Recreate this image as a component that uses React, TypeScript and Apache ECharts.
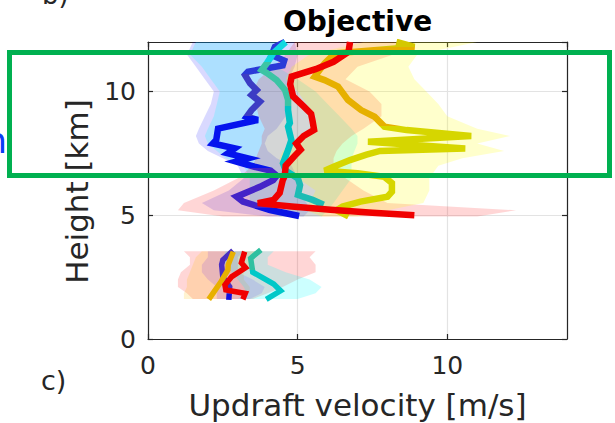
import React, { useEffect, useRef } from 'react';
import * as echarts from 'echarts';

// ---- axes ----
const X_MIN = 0;
const X_MAX = 14;
const Y_MIN = 0;
const Y_MAX = 12;
const X_TICKS = [0, 5, 10];
const Y_TICKS = [0, 5, 10];

// ---- profile lines [velocity m/s, height km] ----
const BLUE_UP: [number, number][] = [
  [4.58, 12.0], [4.24, 11.8], [4.13, 11.47], [4.55, 11.25], [4.5, 11.05], [3.34, 10.8], [3.24, 10.67],
  [3.41, 10.33], [3.63, 10.06], [3.46, 9.86], [3.74, 9.59], [3.46, 9.25], [3.3, 8.98], [3.67, 8.85],
  [2.34, 8.5], [2.28, 8.04], [2.17, 7.9], [2.9, 7.7], [2.67, 7.5], [3.34, 7.3], [2.95, 7.17],
  [3.56, 6.96], [4.1, 6.8], [4.3, 6.6], [4.18, 6.42], [3.74, 6.15], [2.96, 5.75], [3.17, 5.55],
  [4.08, 5.21], [5.05, 4.97],
];
const TEAL_UP: [number, number][] = [
  [4.6, 12.0], [4.18, 11.54], [3.97, 11.14], [3.8, 10.87], [3.97, 10.75], [4.3, 10.46], [4.58, 10.06],
  [4.68, 9.66], [4.68, 9.25], [4.74, 8.73], [4.68, 8.58], [4.79, 8.04], [4.68, 7.64], [4.51, 7.1],
  [4.6, 6.8], [5.01, 6.49], [5.08, 6.22], [5.01, 5.82], [5.5, 5.62], [5.77, 5.48], [5.68, 5.21],
];
const RED_UP: [number, number][] = [
  [6.75, 12.0], [6.7, 11.6], [6.2, 11.2], [5.6, 10.9], [4.8, 10.6], [4.75, 10.3], [4.85, 9.8],
  [5.2, 9.4], [5.45, 9.1], [5.5, 8.8], [5.55, 8.45], [5.2, 8.2], [4.95, 7.9], [5.1, 7.65],
  [4.9, 7.4], [4.6, 7.0], [4.57, 6.6], [4.5, 6.4], [4.4, 5.9], [4.2, 5.62], [3.67, 5.49],
  [4.8, 5.35], [6.1, 5.22], [7.5, 5.1], [8.9, 5.0],
];
const YELLOW_UP: [number, number][] = [
  [8.3, 12.0], [8.9, 11.8], [6.24, 11.54], [5.9, 11.14], [5.57, 10.6], [5.9, 10.46], [6.35, 10.2],
  [6.68, 9.66], [7.12, 9.25], [7.57, 8.98], [7.9, 8.58], [8.64, 8.44], [10.8, 8.2], [7.35, 7.97],
  [10.6, 7.7], [7.75, 7.6], [7.3, 7.45], [6.75, 7.23], [6.2, 6.96], [5.9, 6.8], [7.0, 6.7],
  [7.9, 6.55], [8.15, 6.3], [8.15, 5.95], [8.0, 5.75], [7.1, 5.55], [6.5, 5.35], [6.3, 5.2],
  [6.7, 4.95],
];
const BLUE_LOW: [number, number][] = [
  [2.84, 3.57], [2.5, 3.19], [2.46, 3.0], [2.5, 2.5], [2.73, 2.11], [2.7, 1.58],
];
const ORANGE_LOW: [number, number][] = [
  [2.85, 3.53], [2.68, 3.0], [2.67, 2.79], [2.42, 2.28], [2.03, 1.6],
];
const RED_LOW: [number, number][] = [
  [3.23, 3.53], [3.12, 3.08], [3.26, 2.88], [2.8, 2.52], [2.57, 2.18], [2.6, 1.98], [3.25, 1.84],
  [3.17, 1.6],
];
const TEAL_LOW: [number, number][] = [
  [3.77, 3.6], [3.43, 3.26], [3.5, 2.7], [4.2, 2.22], [4.43, 1.95], [3.95, 1.6],
];

// ---- spread bands (height, left edge, right edge) ----
const UPPER_Y = [12, 11.5, 11, 10.5, 10, 9.5, 9, 8.5, 8.2, 7.9, 7.6, 7.3, 7, 6.5, 6, 5.5, 5.2, 4.95];
const BLUE_BAND_LO = [1.5, 1.3, 1.6, 1.9, 2.2, 2.1, 1.9, 1.7, 1.6, 1.7, 2.0, 2.5, 3.0, 3.2, 2.7, 1.8, 2.2, 4.0];
const BLUE_BAND_HI = [4.9, 5.0, 4.9, 4.7, 4.6, 4.6, 4.6, 4.3, 4.0, 3.9, 4.0, 4.3, 4.8, 5.0, 5.0, 5.3, 5.4, 5.2];
const CYAN_BAND_LO = [1.6, 1.4, 1.8, 2.1, 2.4, 2.3, 2.2, 2.0, 1.9, 2.0, 2.3, 2.6, 3.2, 3.4, 3.4, 3.4, 3.8, 4.4];
const CYAN_BAND_HI = [4.6, 4.4, 4.3, 5.0, 5.6, 6.0, 6.4, 6.8, 7.0, 7.0, 6.9, 6.8, 6.8, 6.8, 6.5, 6.2, 6.0, 5.8];
const RED_BAND_LO = [4.9, 4.6, 4.2, 3.7, 3.5, 3.6, 3.7, 3.9, 3.8, 3.8, 3.7, 3.6, 3.5, 3.0, 2.2, 1.2, 1.0, 2.5];
const RED_BAND_HI = [8.4, 8.2, 7.0, 6.6, 7.4, 7.8, 7.8, 7.2, 6.8, 6.5, 6.3, 6.2, 6.2, 6.6, 7.2, 8.0, 12.3, 11.0];
const YELLOW_BAND_LO = [7.2, 5.4, 4.8, 4.6, 5.0, 5.3, 5.6, 5.6, 5.2, 4.8, 4.5, 4.4, 4.4, 5.0, 5.6, 5.4, 5.3, 5.8];
const YELLOW_BAND_HI = [11.0, 9.0, 8.7, 8.9, 9.3, 9.7, 10.0, 11.0, 12.1, 11.0, 11.9, 10.5, 9.7, 9.4, 9.4, 9.2, 8.0, 7.0];

const LOWER_Y = [3.55, 3.3, 3.0, 2.7, 2.4, 2.1, 1.85, 1.62];
const RED_LOW_BAND_LO = [1.2, 1.4, 1.4, 1.1, 1.0, 1.0, 1.3, 1.5];
const RED_LOW_BAND_HI = [5.6, 5.4, 5.6, 5.6, 5.0, 4.5, 4.0, 3.5];
const CYAN_LOW_BAND_LO = [2.6, 2.5, 2.6, 2.8, 3.0, 3.2, 3.3, 3.0];
const CYAN_LOW_BAND_HI = [4.2, 4.0, 4.0, 4.6, 5.4, 5.8, 5.6, 5.0];
const BLUE_LOW_BAND_LO = [2.0, 2.0, 1.8, 1.8, 2.0, 2.3, 2.3, 2.3];
const BLUE_LOW_BAND_HI = [3.2, 3.0, 3.0, 3.0, 3.5, 3.9, 3.8, 3.4];
const ORANGE_LOW_BAND_LO = [1.8, 1.6, 1.5, 1.4, 1.3, 1.3, 1.2, 1.2];
const ORANGE_LOW_BAND_HI = [3.8, 3.6, 3.4, 3.2, 3.2, 3.4, 3.4, 3.0];

const FONT = '"DejaVu Sans", sans-serif';
const AXIS_COLOR = '#262626';

function stepGradient(stops: [number, number, string][]) {
  const cs: { offset: number; color: string }[] = [];
  stops.forEach(([a, b, c]) => {
    cs.push({ offset: a, color: c });
    cs.push({ offset: b, color: c });
  });
  return new echarts.graphic.LinearGradient(0, 0, 0, 1, cs);
}

function band(ys: number[], lo: number[], hi: number[], fill: string, z = 1) {
  return {
    type: 'custom',
    coordinateSystem: 'cartesian2d',
    xAxisIndex: 0,
    yAxisIndex: 0,
    silent: true,
    z,
    data: [[0, 0]],
    renderItem: (_params: any, api: any) => {
      const pts: number[][] = [];
      for (let i = 0; i < ys.length; i++) pts.push(api.coord([lo[i], ys[i]]));
      for (let i = ys.length - 1; i >= 0; i--) pts.push(api.coord([hi[i], ys[i]]));
      return { type: 'polygon', shape: { points: pts }, style: { fill, stroke: 'none' } };
    },
  };
}

function line(data: [number, number][], color: any, width = 6.5) {
  return {
    type: 'line',
    xAxisIndex: 0,
    yAxisIndex: 0,
    data,
    showSymbol: false,
    symbol: 'none',
    silent: true,
    z: 5,
    lineStyle: { color, width, join: 'miter', cap: 'butt' },
  };
}

const tickFmt = (ticks: number[]) => (v: number) => (ticks.includes(v) ? String(v) : '');

export default function App() {
  const ref = useRef<HTMLDivElement>(null);
  useEffect(() => {
    if (!ref.current) return;
    const chart = echarts.init(ref.current, undefined, { renderer: 'svg' });
    const baseX = {
      type: 'value',
      min: X_MIN,
      max: X_MAX,
      interval: 5,
    };
    const baseY = {
      type: 'value',
      min: Y_MIN,
      max: Y_MAX,
      interval: 5,
    };
    chart.setOption({
      animation: false,
      backgroundColor: '#ffffff',
      grid: { left: 148, right: 48, top: 42, bottom: 84, containLabel: false },
      xAxis: [
        {
          ...baseX,
          position: 'bottom',
          axisLine: { show: true, onZero: false, lineStyle: { color: AXIS_COLOR, width: 1.2 } },
          axisTick: { show: true, inside: true, length: 5, lineStyle: { color: AXIS_COLOR, width: 1.2 } },
          axisLabel: {
            show: true, formatter: tickFmt(X_TICKS), color: AXIS_COLOR, fontSize: 25, fontFamily: FONT,
            margin: 14, showMaxLabel: false,
          },
          splitLine: { show: true, lineStyle: { color: '#e3e3e3', width: 1.2 } },
        },
        {
          ...baseX,
          position: 'top',
          axisLine: { show: true, onZero: false, lineStyle: { color: AXIS_COLOR, width: 1.2 } },
          axisTick: { show: true, inside: true, length: 5, lineStyle: { color: AXIS_COLOR, width: 1.2 } },
          axisLabel: { show: false },
          splitLine: { show: false },
        },
      ],
      yAxis: [
        {
          ...baseY,
          position: 'left',
          axisLine: { show: true, onZero: false, lineStyle: { color: AXIS_COLOR, width: 1.2 } },
          axisTick: { show: true, inside: true, length: 5, lineStyle: { color: AXIS_COLOR, width: 1.2 } },
          axisLabel: {
            show: true, formatter: tickFmt(Y_TICKS), color: AXIS_COLOR, fontSize: 25, fontFamily: FONT,
            margin: 12, showMaxLabel: false,
          },
          splitLine: { show: true, lineStyle: { color: '#e3e3e3', width: 1.2 } },
        },
        {
          ...baseY,
          position: 'right',
          axisLine: { show: true, onZero: false, lineStyle: { color: AXIS_COLOR, width: 1.2 } },
          axisTick: { show: true, inside: true, length: 5, lineStyle: { color: AXIS_COLOR, width: 1.2 } },
          axisLabel: { show: false },
          splitLine: { show: false },
        },
      ],
      series: [
        band(UPPER_Y, BLUE_BAND_LO, BLUE_BAND_HI, 'rgba(0,0,255,0.15)'),
        band(UPPER_Y, CYAN_BAND_LO, CYAN_BAND_HI, 'rgba(0,255,255,0.2)'),
        band(UPPER_Y, RED_BAND_LO, RED_BAND_HI, 'rgba(255,0,0,0.16)'),
        band(UPPER_Y, YELLOW_BAND_LO, YELLOW_BAND_HI, 'rgba(255,255,0,0.2)'),
        band(LOWER_Y, RED_LOW_BAND_LO, RED_LOW_BAND_HI, 'rgba(255,0,0,0.16)'),
        band(LOWER_Y, ORANGE_LOW_BAND_LO, ORANGE_LOW_BAND_HI, 'rgba(255,190,0,0.18)'),
        band(LOWER_Y, BLUE_LOW_BAND_LO, BLUE_LOW_BAND_HI, 'rgba(80,0,255,0.13)'),
        band(LOWER_Y, CYAN_LOW_BAND_LO, CYAN_LOW_BAND_HI, 'rgba(0,255,255,0.2)'),
        line(BLUE_UP, stepGradient([
          [0, 0.185, '#2a3ad8'], [0.185, 0.427, '#3c3cc4'], [0.427, 0.725, '#0514ee'],
          [0.725, 0.953, '#4424c8'], [0.953, 1, '#0a14e6'],
        ])),
        line(TEAL_UP, stepGradient([
          [0, 0.118, '#10d8e0'], [0.118, 0.383, '#3cc4a4'], [0.383, 0.78, '#00c4c4'], [0.78, 1, '#1cbcb4'],
        ])),
        line(YELLOW_UP, stepGradient([
          [0, 0.03, '#d4c800'], [0.03, 0.48, '#e6b000'], [0.48, 1, '#d6d600'],
        ])),
        line(RED_UP, '#f00000'),
        line(BLUE_LOW, stepGradient([[0, 0.89, '#4b2fc0'], [0.89, 1, '#1010e0']]), 5.5),
        line(ORANGE_LOW, '#e8b000', 5.5),
        line(TEAL_LOW, stepGradient([[0, 0.4, '#30c0a0'], [0.4, 1, '#00c8c8']]), 5.5),
        line(RED_LOW, '#f00000', 5.5),
      ],
      graphic: [
        {
          type: 'text', x: 357.5, y: 21, z: 20,
          style: { text: 'Objective', fill: '#000000', font: `bold 28px ${FONT}`, align: 'center', verticalAlign: 'middle' },
        },
        {
          type: 'text', x: 357.5, y: 405, z: 20,
          style: { text: 'Updraft velocity [m/s]', fill: AXIS_COLOR, font: `31px ${FONT}`, align: 'center', verticalAlign: 'middle' },
        },
        {
          type: 'text', x: 77, y: 191.5, rotation: Math.PI / 2, z: 20,
          style: { text: 'Height [km]', fill: AXIS_COLOR, font: `31px ${FONT}`, align: 'center', verticalAlign: 'middle' },
        },
        {
          type: 'text', x: 42, y: -5, z: 20,
          style: { text: 'b)', fill: AXIS_COLOR, font: `26px ${FONT}`, align: 'left', verticalAlign: 'middle' },
        },
        {
          type: 'text', x: 41, y: 380, z: 20,
          style: { text: 'c)', fill: AXIS_COLOR, font: `27px ${FONT}`, align: 'left', verticalAlign: 'middle' },
        },
        {
          type: 'text', x: 7, y: 140, z: 20,
          style: { text: 'n', fill: '#0a3cf5', font: `36px ${FONT}`, align: 'right', verticalAlign: 'middle' },
        },
        {
          type: 'rect', z: 30,
          shape: { x: 9.5, y: 52.5, width: 600, height: 123 },
          style: { fill: 'none', stroke: '#00b050', lineWidth: 5 },
        },
      ],
    });
    return () => chart.dispose();
  }, []);
  return <div ref={ref} style={{ position: 'fixed', left: 0, top: 0, width: 615, height: 423, background: '#fff' }} />;
}
